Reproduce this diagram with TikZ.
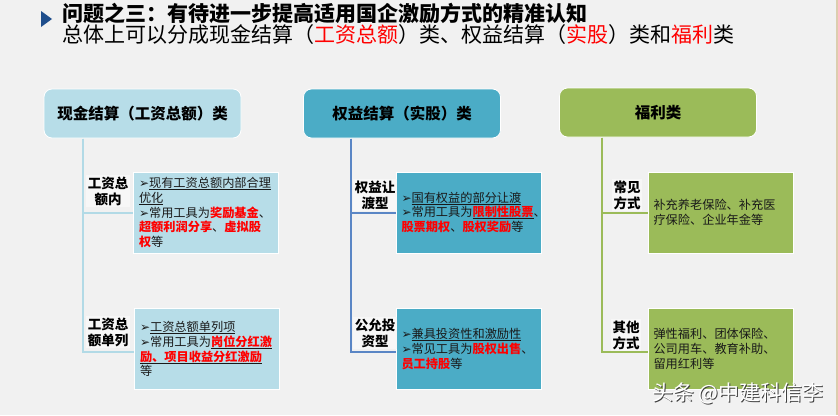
\documentclass[tikz,border=0pt]{standalone}
\usepackage{fontspec}
\setmainfont{Noto Sans CJK SC}
\newfontfamily\dvfont{DejaVu Sans}
\definecolor{bg}{HTML}{F1F1F1}
\definecolor{cA}{HTML}{B7DDE8}
\definecolor{cB}{HTML}{4BACC6}
\definecolor{cC}{HTML}{9BBB59}
\definecolor{lA}{HTML}{B2DAE6}
\definecolor{lB}{HTML}{5A86C5}
\definecolor{lC}{HTML}{9BBB59}
\definecolor{tri}{HTML}{1F4E8C}
\definecolor{rd}{HTML}{FF0000}
\definecolor{tanc}{HTML}{DCCDAE}
\newcommand\arr{\leavevmode{\dvfont\fontsize{12}{12}\selectfont ➢}}
\newcommand\myul[1]{\leavevmode\setbox0\hbox{#1}\rlap{\rule[-2.2pt]{\wd0}{0.7pt}}\box0}
\newcommand\rb[1]{\textcolor{rd}{\bfseries #1}}
\tikzset{
  head/.style={rounded corners=8pt, draw=white, line width=0.8pt, minimum width=197pt, minimum height=49pt, font=\fontsize{15.5}{18}\selectfont\bfseries, text=black},
  childbox/.style={draw=white, line width=0.8pt, minimum width=145pt, minimum height=81pt, inner xsep=5pt, inner ysep=0pt, text width=134pt, align=left, font=\fontsize{12.2}{14.8}\selectfont, text=black!90},
  lab/.style={font=\fontsize{13.5}{16}\selectfont\bfseries, align=center, inner sep=1.5pt, fill=white!45!bg, text=black},
  connA/.style={draw=lA, line width=2pt},
  connB/.style={draw=lB, line width=2pt},
  connC/.style={draw=lC, line width=2pt},
}
\begin{document}
\begin{tikzpicture}[x=1pt,y=-1pt]
\fill[bg] (0,0) rectangle (838,415);
\useasboundingbox (0,0) rectangle (838,415);
\draw[tanc, line width=1.5pt] (837.2,0) -- (837.2,415);
% title
\fill[tri] (41,11) -- (52,19) -- (41,27) -- cycle;
\node[anchor=west, inner sep=0pt, font=\fontsize{21}{24}\selectfont\bfseries] (title) at (62,13) {问题之三：有待进一步提高适用国企激励方式的精准认知};
\node[anchor=west, inner sep=0pt, font=\fontsize{21}{24}\selectfont] (sub) at (62,35) {总体上可以分成现金结算（\textcolor{rd}{工资总额}）类、权益结算（\textcolor{rd}{实股}）类和\textcolor{rd}{福利}类};
% headers
\node[head, fill=cA] (hA) at (142.5,113.5) {现金结算（工资总额）类};
\node[head, fill=cB] (hB) at (402,113.5) {权益结算（实股）类};
\node[head, fill=cC] (hC) at (658,112.5) {福利类};
% child boxes
\node[childbox, fill=cA] (a1) at (206,212.5) {\arr\myul{现有工资总额内部合理}\\
\myul{优化}\\
\arr 常用工具为\rb{奖励基金}、\\
\rb{超额利润分享}、\rb{虚拟股}\\
\rb{权}等};
\node[childbox, fill=cA] (a2) at (207,349) {\arr\myul{工资总额单列项}\\
\arr 常用工具为\myul{\rb{岗位分红激}}\\
\myul{\rb{励、项目收益分红激励}}\\
等};
\node[childbox, fill=cB] (b1) at (468.5,212.5) {\arr\myul{国有权益的部分让渡}\\
\arr 常用工具为\myul{\rb{限制性股票}}、\\
\rb{股票期权}、\rb{股权奖励}等};
\node[childbox, fill=cB] (b2) at (468.5,349) {\arr\myul{兼具投资性和激励性}\\
\arr 常见工具为\rb{股权出售}、\\
\rb{员工持股}等\\[9pt]};
\node[childbox, fill=cC] (c1) at (720.5,212.5) {补充养老保险、补充医\\疗保险、企业年金等};
\node[childbox, fill=cC] (c2) at (720.5,349) {弹性福利、团体保险、\\公司用车、教育补助、\\留用红利等};
% connectors
\coordinate (tA) at (83,138.5);
\coordinate (tB) at (351,138.5);
\coordinate (tC) at (602,137.5);
\draw[connA] (tA) |- (a1.west);
\draw[connA] (tA) |- ([yshift=-3pt]a2.west);
\draw[connB] (tB) |- (b1.west);
\draw[connB] (tB) |- ([yshift=-3pt]b2.west);
\draw[connC] (tC) |- (c1.west);
\draw[connC] (tC) |- ([yshift=-3pt]c2.west);
% labels
\node[lab] (la1) at (108,191) {工资总\\额内};
\node[lab] (la2) at (108,332) {工资总\\额单列};
\node[lab] (lb1) at (375,195) {权益让\\渡型};
\node[lab] (lb2) at (375,333) {公允投\\资型};
\node[lab] (lc1) at (627,195) {常见\\方式};
\node[lab] (lc2) at (626,335) {其他\\方式};
% watermark
\node[font=\fontsize{21}{21}\selectfont, text=black!75] (wms) at (739,394.5) {头条 @中建科信李};
\node[font=\fontsize{21}{21}\selectfont, text=white] (wm) at (738,393.5) {头条 @中建科信李};
\end{tikzpicture}
\end{document}
